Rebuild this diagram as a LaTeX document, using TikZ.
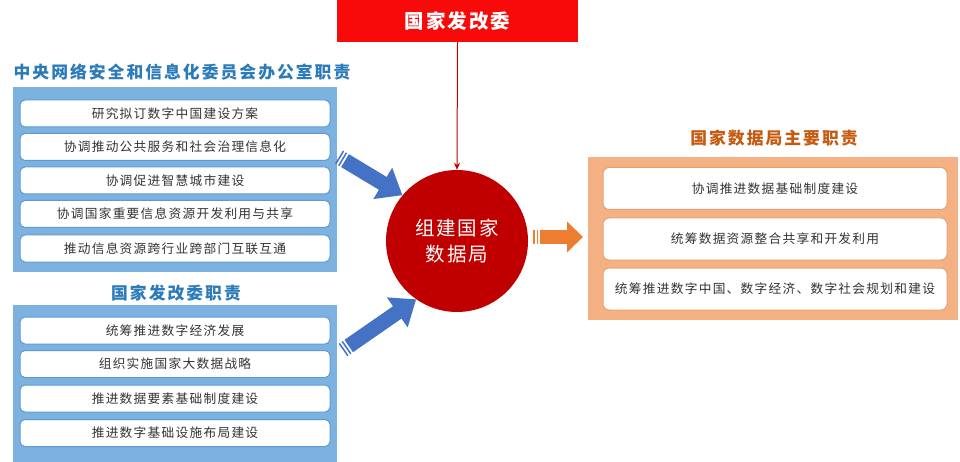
\documentclass[tikz,border=0pt]{standalone}
\usepackage{fontspec}
\setmainfont{Noto Sans CJK SC}
\newfontfamily\cjk[LetterSpace=10]{Noto Sans CJK SC}
\newfontfamily\cjkt[LetterSpace=12]{Noto Sans CJK SC}
\usetikzlibrary{arrows.meta,calc}
\definecolor{topred}{HTML}{F80A0A}
\definecolor{circred}{HTML}{C00000}
\definecolor{panelblue}{HTML}{7DB1DF}
\definecolor{boxblue}{HTML}{5B9BD5}
\definecolor{titleblue}{HTML}{2B7BBA}
\definecolor{arrblue}{HTML}{4472C4}
\definecolor{arrorange}{HTML}{ED7D31}
\definecolor{peach}{HTML}{F4B183}
\definecolor{boxorange}{HTML}{E8A070}
\definecolor{titleorange}{HTML}{C55A11}
\definecolor{txt}{HTML}{333333}
\begin{document}
\begin{tikzpicture}[x=1pt,y=-1pt,
  bluepanel/.style={fill=panelblue,draw=none,minimum width=324pt,inner sep=0pt},
  peachpanel/.style={fill=peach,draw=none,inner sep=0pt},
  itembox/.style={fill=white,draw=boxblue,line width=1pt,rounded corners=5pt,minimum width=310pt,minimum height=27pt,inner sep=0pt,font=\cjk\fontsize{12.7}{14}\selectfont,text=txt},
  ritembox/.style={fill=white,draw=boxorange,line width=1pt,rounded corners=6pt,minimum width=344pt,minimum height=42pt,inner sep=0pt,font=\cjk\fontsize{12.7}{14}\selectfont,text=txt},
  ltitle/.style={font=\cjkt\bfseries\fontsize{16.8}{20}\selectfont,text=titleblue,inner sep=0pt},
  rtitle/.style={font=\cjkt\bfseries\fontsize{16.8}{20}\selectfont,text=titleorange,inner sep=0pt},
  bigblue/.style={draw=arrblue,line width=15pt,-{Triangle[length=23pt,width=35pt]}},
  bluebar/.style={draw=arrblue,line width=15pt},
  bigorange/.style={draw=arrorange,line width=14pt,-{Triangle[length=16pt,width=30pt]}},
  orangebar/.style={draw=arrorange,line width=14pt}
]
\useasboundingbox (0,0) rectangle (960,462);
\fill[white] (0,0) rectangle (960,462);

% circle
\node[circle,fill=circred,draw=none,minimum size=142pt,inner sep=0pt,align=center,
  font=\cjk\fontsize{19.5}{26}\selectfont,text=white] (circ) at (457,241) {组建国家\\数据局};

% top box
\node[fill=topred,draw=none,minimum width=241pt,minimum height=42pt,inner sep=0pt,align=center,
  font=\cjk\bfseries\fontsize{19.5}{22}\selectfont,text=white] (top) at (457.5,21) {国家发改委};

\draw[circred,line width=1pt,-{Stealth[length=7pt,width=6pt]}] (top.south) -- (circ.north);

% left panel 1
\node[ltitle] (t1) at (182,72) {中央网络安全和信息化委员会办公室职责};
\node[bluepanel,minimum height=185pt] (p1) at (175,179.5) {};
\node[itembox] (b11) at (175,113.5) {研究拟订数字中国建设方案};
\node[itembox] (b12) at (175,147) {协调推动公共服务和社会治理信息化};
\node[itembox] (b13) at (175,180.5) {协调促进智慧城市建设};
\node[itembox] (b14) at (175,214) {协调国家重要信息资源开发利用与共享};
\node[itembox] (b15) at (175,248.5) {推动信息资源跨行业跨部门互联互通};

% left panel 2
\node[ltitle] (t2) at (176,293) {国家发改委职责};
\node[bluepanel,minimum height=158pt] (p2) at (175,384) {};
\node[itembox] (b21) at (175,330.5) {统筹推进数字经济发展};
\node[itembox] (b22) at (175,364) {组织实施国家大数据战略};
\node[itembox] (b23) at (175,398.5) {推进数据要素基础制度建设};
\node[itembox] (b24) at (175,433) {推进数字基础设施布局建设};

% right panel
\node[rtitle] (t3) at (774,138) {国家数据局主要职责};
\node[peachpanel,minimum width=370pt,minimum height=163pt] (p3) at (773,238.5) {};
\node[ritembox] (r1) at (775,188.5) {协调推进数据基础制度建设};
\node[ritembox] (r2) at (775,239) {统筹数据资源整合共享和开发利用};
\node[ritembox] (r3) at (775,289) {统筹推进数字中国、数字经济、数字社会规划和建设};

% arrows
\coordinate (a1t) at (339,157);
\coordinate (a1h) at (circ.140);
\coordinate (a2t) at (343,350);
\coordinate (a2h) at (circ.235);
\coordinate (a3t) at (533,237);
\coordinate (a3h) at (583,237);

\draw[bluebar] (a1t) -- ($(a1t)!1.5pt!(a1h)$);
\draw[bluebar] ($(a1t)!3.5pt!(a1h)$) -- ($(a1t)!5pt!(a1h)$);
\draw[bigblue] ($(a1t)!7pt!(a1h)$) -- (a1h);

\draw[bluebar] (a2t) -- ($(a2t)!1.5pt!(a2h)$);
\draw[bluebar] ($(a2t)!3.5pt!(a2h)$) -- ($(a2t)!5pt!(a2h)$);
\draw[bigblue] ($(a2t)!7pt!(a2h)$) -- (a2h);

\draw[orangebar] (a3t) -- ($(a3t)!1.5pt!(a3h)$);
\draw[orangebar] ($(a3t)!3.5pt!(a3h)$) -- ($(a3t)!5pt!(a3h)$);
\draw[bigorange] ($(a3t)!7pt!(a3h)$) -- (a3h);
\end{tikzpicture}
\end{document}
